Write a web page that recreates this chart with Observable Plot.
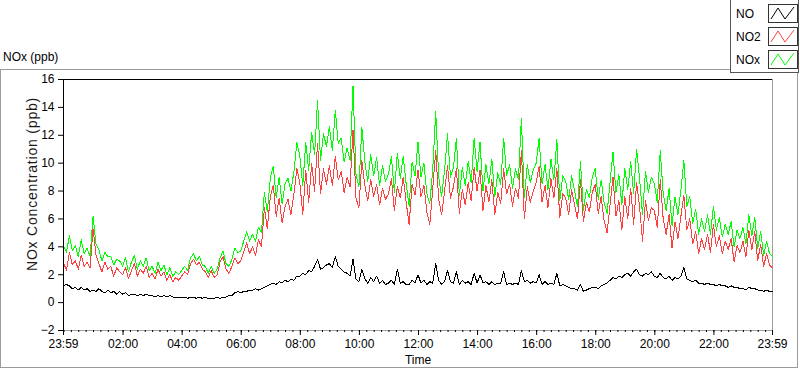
<!DOCTYPE html>
<html><head><meta charset="utf-8">
<script src="https://cdn.jsdelivr.net/npm/d3@7"></script>
<script src="https://cdn.jsdelivr.net/npm/@observablehq/plot@0.6"></script>
<style>
body{margin:0;background:#fff;font-family:"Liberation Sans",Arial,sans-serif;}
#wrap{position:relative;width:800px;height:369px;overflow:hidden;background:#fff;}
#chart{position:absolute;left:0;top:0;}
#frame{position:absolute;left:0;top:69px;width:796px;height:297px;border:1px solid #9a9a9a;pointer-events:none;}
#title{position:absolute;left:3px;top:50px;font-size:12px;color:#000;line-height:14px;}
#legend{position:absolute;left:730px;top:-1px;width:67px;height:72px;border:1px solid #555;background:#fff;}
.lab{position:absolute;left:5px;font-size:12px;line-height:14px;color:#000;}
.sw{position:absolute;left:37px;}
#chart g[aria-label="line"] path{shape-rendering:crispEdges;}
</style></head>
<body>
<div id="wrap">
  <div id="chart"></div>
  <div id="frame"></div>
  <div id="title">NOx (ppb)</div>
  <div id="legend"></div>
</div>
<script>
// Series sampled every 6 minutes from 23:59 to 23:59 next day (241 samples)
const seriesNames = ["NO", "NO2", "NOx"];
const seriesColors = ["#000000", "#ff4040", "#00ff00"];
const yLabel = "NOx Concentration (ppb)";
const NO = [
1.2,1.3,1.2,1.0,1.1,0.9,1.1,0.9,1.0,0.8,
0.9,0.8,1.0,0.8,0.7,0.9,0.7,0.8,0.6,0.8,
0.6,0.7,0.5,0.6,0.6,0.5,0.6,0.5,0.6,0.5,
0.5,0.4,0.5,0.4,0.5,0.4,0.5,0.4,0.4,0.4,
0.4,0.4,0.3,0.4,0.4,0.3,0.4,0.3,0.4,0.3,
0.3,0.3,0.4,0.3,0.4,0.4,0.5,0.5,0.7,0.8,
0.7,0.8,0.8,0.9,0.9,1.0,0.9,1.0,1.1,1.2,
1.3,1.4,1.3,1.5,1.4,1.6,1.5,1.7,1.6,1.9,
1.9,2.1,2.0,2.3,2.2,2.6,3.1,2.4,2.5,2.7,
2.8,2.5,3.3,2.6,2.4,2.2,2.1,1.9,3.1,1.7,
1.5,2.4,1.7,1.4,1.8,1.5,1.9,1.4,1.6,1.3,
1.4,1.6,1.3,2.4,1.4,1.5,1.3,1.3,1.6,1.4,
2.0,1.4,1.6,1.3,1.5,1.4,2.8,1.6,1.3,1.5,
2.3,1.5,1.4,2.2,1.3,1.6,1.4,1.5,1.3,2.1,
1.4,2.0,1.4,1.5,1.3,1.5,1.3,1.4,1.4,2.2,
1.3,1.4,1.3,1.4,1.3,2.3,1.5,1.6,1.4,1.5,
1.4,2.0,1.3,1.5,1.3,1.4,1.3,2.1,1.2,1.3,
1.2,1.1,1.0,1.0,0.9,1.3,0.8,0.9,1.0,1.1,
1.1,1.0,1.2,1.3,1.4,1.6,1.8,1.7,1.9,1.8,
2.0,2.1,1.9,2.2,2.4,2.0,1.9,2.1,2.0,2.2,
1.9,1.8,2.1,1.8,1.7,1.9,1.6,1.8,1.7,1.9,
2.5,1.7,1.6,1.5,1.6,1.4,1.4,1.3,1.4,1.3,
1.3,1.2,1.3,1.2,1.2,1.1,1.2,1.1,1.1,1.0,
1.0,0.9,1.1,1.0,1.0,0.9,0.9,0.8,0.9,0.8,
0.8];
const NO2 = [
2.9,2.3,3.6,2.7,3.0,2.4,3.4,2.6,2.9,2.5,
5.3,3.4,2.8,2.2,2.9,2.4,2.6,1.9,2.5,2.2,
2.0,2.5,1.7,2.3,2.8,1.9,2.4,2.1,2.6,1.8,
2.1,1.7,2.4,1.9,2.2,1.6,2.0,1.5,1.8,1.6,
1.9,2.2,2.0,2.8,3.1,2.7,2.9,2.4,2.2,1.8,
2.3,1.8,2.0,2.9,3.3,2.4,2.1,2.6,3.2,2.8,
3.0,3.6,4.3,3.5,4.0,3.4,4.5,4.0,6.8,5.3,
7.6,8.4,6.2,7.5,5.7,6.9,7.4,6.3,7.8,9.6,
8.6,6.3,9.5,7.2,10.0,8.0,11.4,7.8,9.6,8.5,
9.8,8.4,10.5,8.8,9.4,7.9,9.0,8.3,12.4,7.5,
6.8,10.2,8.4,7.3,8.8,7.6,8.5,7.0,8.2,7.4,
7.8,8.9,6.6,8.3,7.5,9.0,7.2,5.6,8.5,7.7,
9.5,7.6,8.4,6.5,5.6,8.2,10.9,7.4,6.3,8.0,
9.8,7.5,8.3,9.6,6.4,8.1,7.0,8.6,7.3,9.7,
8.0,9.5,6.6,8.4,7.2,8.8,6.3,7.9,7.1,9.6,
7.8,8.5,6.9,8.2,7.5,10.9,6.0,8.3,7.2,8.0,
8.6,9.8,7.2,8.4,6.8,8.9,7.5,9.6,6.1,7.8,
7.5,6.3,8.1,7.0,6.0,8.8,5.8,7.2,6.5,7.9,
8.5,6.4,7.6,5.9,5.0,7.0,9.0,6.2,7.3,5.2,
7.6,6.0,8.2,5.6,8.6,6.9,4.4,7.3,5.9,6.8,
6.6,5.4,8.8,6.0,4.9,6.3,3.9,5.8,4.6,6.2,
7.7,5.2,6.0,4.2,5.1,3.5,4.6,3.8,4.9,3.6,
5.6,4.0,4.8,3.5,4.4,3.8,4.6,2.9,4.1,3.6,
4.4,3.3,5.2,3.8,5.1,3.0,4.2,2.6,3.5,2.7,
2.5];
const NOx = [
4.1,3.6,4.8,3.7,4.1,3.3,4.5,3.5,3.9,3.3,
6.2,4.2,3.8,3.0,3.6,3.3,3.3,2.7,3.1,3.0,
2.6,3.2,2.2,2.9,3.4,2.4,3.0,2.6,3.2,2.3,
2.6,2.1,2.9,2.3,2.7,2.0,2.5,1.9,2.2,2.0,
2.3,2.6,2.3,3.2,3.5,3.0,3.3,2.7,2.6,2.1,
2.6,2.1,2.4,3.2,3.7,2.8,2.6,3.1,3.9,3.6,
3.7,4.4,5.1,4.4,4.9,4.4,5.4,5.0,7.9,6.5,
8.9,9.8,7.5,9.0,7.1,8.5,8.9,8.0,9.4,11.5,
10.5,8.4,11.5,9.5,12.2,10.6,14.5,10.2,12.1,11.2,
12.6,10.9,13.8,11.4,11.8,10.1,11.1,10.2,15.5,9.2,
8.3,12.6,10.1,8.7,10.6,9.1,10.4,8.4,9.8,8.7,
9.2,10.5,7.9,10.7,8.9,10.5,8.5,6.9,10.1,9.1,
11.5,9.0,10.0,7.8,7.1,9.6,13.7,9.0,7.6,9.5,
12.1,9.0,9.7,11.8,7.7,9.7,8.4,10.1,8.6,11.8,
9.4,11.5,8.0,9.9,8.5,10.3,7.6,9.3,8.5,11.8,
9.1,9.9,8.2,9.6,8.8,13.2,7.5,9.9,8.6,9.5,
10.0,11.8,8.5,9.9,8.1,10.3,8.8,11.7,7.3,9.1,
8.7,7.4,9.1,8.0,6.9,10.1,6.6,8.1,7.5,9.0,
9.6,7.4,8.8,7.2,6.4,8.6,10.8,7.9,9.2,7.0,
9.6,8.1,10.1,7.8,11.0,8.9,6.3,9.4,7.9,9.0,
8.5,7.2,10.9,7.8,6.6,8.2,5.5,7.6,6.3,8.1,
10.2,6.9,7.6,5.7,6.7,4.9,6.0,5.1,6.3,4.9,
6.9,5.2,6.1,4.7,5.6,4.9,5.8,4.0,5.2,4.6,
5.4,4.2,6.3,4.8,6.1,3.9,5.1,3.4,4.4,3.5,
3.3];
const yTicks = [-2, 0, 2, 4, 6, 8, 10, 12, 14, 16];
const xTickLabels = ["23:59","02:00","04:00","06:00","08:00","10:00","12:00","14:00","16:00","18:00","20:00","22:00","23:59"];

const start = Date.UTC(2000, 0, 1, 23, 59);
const stepMs = 6 * 60000;
const end = start + 24 * 3600000;
const rows = NO.map((v, i) => ({t: new Date(start + i * stepMs), NO: v, NO2: NO2[i], NOx: NOx[i]}));

const majorTicks = xTickLabels.map((s, i) => {
  if (i === 0) return new Date(start);
  if (i === xTickLabels.length - 1) return new Date(end);
  const [h, m] = s.split(":").map(Number);
  return new Date(Date.UTC(2000, 0, 2, h, m));
});
const minorTicks = d3.utcMinute.every(15).range(new Date(Date.UTC(2000,0,2,0,0)), new Date(end));

const chart = Plot.plot({
  width: 800, height: 369,
  marginLeft: 63, marginRight: 28, marginTop: 79, marginBottom: 39,
  style: {background: "transparent", fontFamily: "Liberation Sans, Arial, sans-serif", fontSize: "12px", color: "#000", overflow: "visible"},
  x: {type: "utc", domain: [new Date(start), new Date(end)]},
  y: {domain: [-2, 16]},
  marks: [
    Plot.frame({stroke: "#a0a0a0"}),
    Plot.lineY(rows, {x: "t", y: "NOx", stroke: seriesColors[2], strokeWidth: 1}),
    Plot.lineY(rows, {x: "t", y: "NO2", stroke: seriesColors[1], strokeWidth: 1}),
    Plot.lineY(rows, {x: "t", y: "NO", stroke: seriesColors[0], strokeWidth: 1}),
    Plot.ruleX([new Date(start)], {stroke: "#000"}),
    Plot.ruleY([16], {stroke: "#000"}),
    Plot.axisY({ticks: yTicks, tickSize: 5, tickPadding: 4, label: null}),
    Plot.text([yLabel], {frameAnchor: "left", rotate: -90, dx: -31, dy: -21, fontSize: 14, fill: "#1a1a1a", textAnchor: "middle", lineAnchor: "middle", style: {letterSpacing: "0.8px"}}),
    Plot.axisX({ticks: minorTicks, tickSize: 2, tickFormat: () => "", label: null}),
    Plot.axisX({ticks: majorTicks, tickSize: 5, tickPadding: 4, tickFormat: (d, i) => xTickLabels[i], label: "Time", labelAnchor: "center", labelArrow: false, labelOffset: 33})
  ]
});
chart.querySelectorAll('g[aria-label="text"] text').forEach(t => t.style.letterSpacing = "0.8px");
document.getElementById("chart").appendChild(chart);

// Legend
const legend = document.getElementById("legend");
const tops = [4, 27, 50];
seriesNames.forEach((name, i) => {
  const lab = document.createElement("div");
  lab.className = "lab";
  lab.style.top = (tops[i] + 3) + "px";
  lab.textContent = name;
  legend.appendChild(lab);
  const ns = "http://www.w3.org/2000/svg";
  const svg = document.createElementNS(ns, "svg");
  svg.setAttribute("class", "sw");
  svg.setAttribute("width", 30); svg.setAttribute("height", 19);
  svg.style.top = tops[i] + "px";
  const r = document.createElementNS(ns, "rect");
  r.setAttribute("x", 0.5); r.setAttribute("y", 0.5); r.setAttribute("width", 29); r.setAttribute("height", 18);
  r.setAttribute("fill", "#fff"); r.setAttribute("stroke", "#333");
  svg.appendChild(r);
  const p = document.createElementNS(ns, "polyline");
  p.setAttribute("points", "3,15 10,4 17,15 26,3");
  p.setAttribute("fill", "none"); p.setAttribute("stroke", seriesColors[i]); p.setAttribute("stroke-width", 1);
  svg.appendChild(p);
  legend.appendChild(svg);
});
</script>
</body></html>
